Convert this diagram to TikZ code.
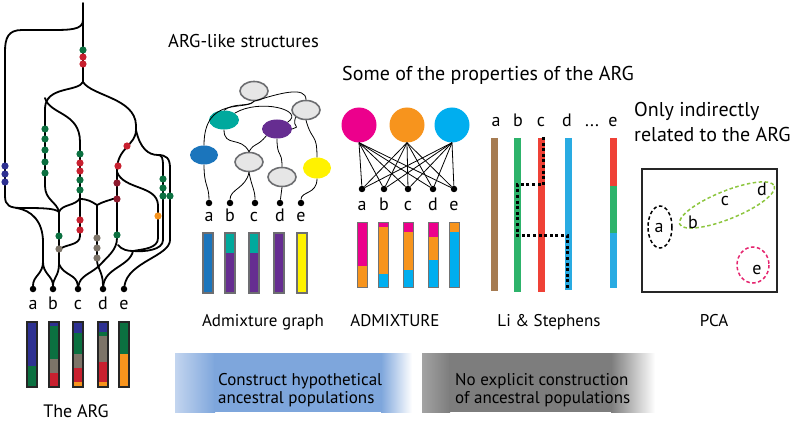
\documentclass[tikz,border=0pt]{standalone}
\usepackage{fontspec}
\setmainfont{PT Sans}
\usetikzlibrary{shapes.geometric,positioning}
\definecolor{mGreen}{HTML}{0B7040}
\definecolor{mRed}{HTML}{C8202F}
\definecolor{mDark}{HTML}{8E1B2F}
\definecolor{mBlue}{HTML}{2E3192}
\definecolor{mGrey}{HTML}{7D7468}
\definecolor{mOrange}{HTML}{F7941D}
\definecolor{gBlueC}{HTML}{1B75BC}
\definecolor{gTealC}{HTML}{00A99D}
\definecolor{gPurpC}{HTML}{662D91}
\definecolor{gYellC}{HTML}{FFF200}
\definecolor{gGreyC}{HTML}{E6E6E6}
\definecolor{gEdge}{HTML}{6D6E71}
\definecolor{kMag}{HTML}{EC008C}
\definecolor{kOra}{HTML}{F7941D}
\definecolor{kCya}{HTML}{00AEEF}
\definecolor{lsBrown}{HTML}{A67C52}
\definecolor{lsGreen}{HTML}{2DB36B}
\definecolor{lsRed}{HTML}{EF4136}
\definecolor{lsBlue}{HTML}{29ABE2}
\definecolor{pcGreen}{HTML}{8DC63F}
\definecolor{pcPink}{HTML}{E5256F}
\definecolor{bnBlue}{HTML}{7EA6DC}
\definecolor{bnBlueL}{HTML}{C3D5EF}
\definecolor{bnGrey}{HTML}{7D7D7D}
\definecolor{bnGreyL}{HTML}{A3A3A3}
\tikzset{
ARC/.style ={draw=black,line join=round,line cap=round,line width=1.8pt},
THIN/.style ={draw=black,line width=0.8pt},
LEAF/.style={circle,fill=black,inner sep=0pt,minimum size=6.5pt},
POP/.style={ellipse,draw=gEdge,line width=1.6pt,fill=#1,inner sep=0pt,minimum width=28pt,minimum height=19pt},
POP/.default = gGreyC,
ADM/.style={ellipse,fill=#1,inner sep=0pt,minimum width=30pt,minimum height=19pt},
SRC/.style={circle,fill=#1,inner sep=0pt,minimum size=35pt},
TXT/.style={font=\fontsize{18}{21}\selectfont,inner sep=0pt,anchor=base},
NAME/.style={font=\fontsize{17}{20}\selectfont,inner sep=0pt,anchor=base},
TITLE/.style={font=\fontsize{20}{24}\selectfont,inner sep=0pt,anchor=base west},
BAR/.style={draw=#1,line width=1.4pt},
BAR/.default = black!85,
LSBAR/.style={draw=#1,line width=7pt},
COPY/.style={draw=black,line width=3pt,dash pattern=on 3pt off 2.6pt},
CLUST/.style={draw=#1,line width=1.5pt,dash pattern=on 3.5pt off 2.5pt},
}
\begin{document}
\begin{tikzpicture}[x=1pt,y=-1pt] %ARG and ARG-like structures
	\useasboundingbox (0,0) rectangle (800,422);
	% the ARG
	\node[LEAF] (arga) at (33,289) {};
	\node[LEAF] (argb) at (53,289) {};
	\node[LEAF] (argc) at (78,289) {};
	\node[LEAF] (argd) at (103,289) {};
	\node[LEAF] (arge) at (124,289) {};
	\path[ARC] (83,3) -- (83,82);
	\path[ARC] (83,20) .. controls (83,30) and (70,30) .. (50,30) -- (22,30) .. controls (8,30) and (5,38) .. (5,52) -- (5,196) .. controls (5,206) and (10,208) .. (22,208) .. controls (40,208) and (55,208) .. (59,212);
	\path[ARC] (16,208) .. controls (32,210) and (43,222) .. (43,242) -- (43,262);
	\path[ARC] (43,262) .. controls (43,274) and (33,276) .. (arga);
	\path[ARC] (43,262) .. controls (43,274) and (53,276) .. (argb);
	\path[ARC] (83,82) .. controls (78,92) and (46,86) .. (45,108) -- (45,186) .. controls (45,200) and (57,202) .. (59,212);
	\path[ARC] (45,98) .. controls (50,115) and (80,112) .. (80,142) -- (80,236) .. controls (80,246) and (64,244) .. (59,250);
	\path[ARC] (80,198) .. controls (76,206) and (62,204) .. (59,212);
	\path[ARC] (59,212) -- (59,264);
	\path[ARC] (59,264) .. controls (59,276) and (53,278) .. (argb);
	\path[ARC] (59,264) .. controls (64,276) and (77,274) .. (argc);
	\path[ARC] (80,199) .. controls (88,199) and (92,202) .. (97,205) .. controls (102,202) and (110,200) .. (116,198);
	\path[ARC] (97,205) -- (97,260) .. controls (97,268) and (103,272) .. (argd);
	\path[ARC] (99,266) .. controls (90,274) and (80,276) .. (argc);
	\path[ARC] (83,82) .. controls (92,96) and (135,98) .. (136,125) -- (136,130);
	\path[ARC] (136,130) .. controls (136,145) and (117,148) .. (117,170) -- (117,238) .. controls (117,250) and (108,256) .. (99,266);
	\path[ARC] (118,245) .. controls (122,250) and (128,251) .. (133,251);
	\path[ARC] (136,130) .. controls (140,148) and (148,155) .. (158,155) .. controls (162,155) and (163,158) .. (163,166) -- (163,240) .. controls (163,250) and (145,252) .. (133,251);
	\path[ARC] (158,155) .. controls (166,155) and (170,158) .. (170,168) -- (170,240) .. controls (170,256) and (128,262) .. (arge);
	\path[ARC] (117,172) .. controls (124,190) and (157,185) .. (158,205) -- (158,238) .. controls (158,248) and (145,249) .. (133,251);
	\path[ARC] (133,251) .. controls (130,266) and (105,268) .. (argd);
	% mutations
	\foreach \p in {(83,50),(45,129),(45,139),(45,150),(45,162),(45,173),(80,154),(80,180),(80,190),(59,236),(117,235),(163,179),(163,188),(163,196),(170,196)}
		\fill[mGreen] \p circle (3.6);
	\foreach \p in {(83,57),(83,64),(80,163),(80,171),(80,220),(80,230),(127,146),(118,166)}
		\fill[mRed] \p circle (3.6);
	\foreach \p in {(117,183),(117,199)}
		\fill[mDark] \p circle (3.6);
	\foreach \p in {(5,166),(5,174),(5,182)}
		\fill[mBlue] \p circle (3.6);
	\foreach \p in {(59,249),(97,238),(97,248),(97,258)}
		\fill[mGrey] \p circle (3.6);
	\fill[mOrange] (158,216) circle (3.6);
	\node[TXT] (labarga) at (33,309) {a};
	\node[TXT] (labargb) at (53,309) {b};
	\node[TXT] (labargc) at (78,309) {c};
	\node[TXT] (labargd) at (103,309) {d};
	\node[TXT] (labarge) at (124,309) {e};
	\fill[mBlue] (27,322) rectangle (37,366); \fill[mGreen] (27,366) rectangle (37,387);
	\fill[mBlue] (49,322) rectangle (59,326); \fill[mGreen] (49,326) rectangle (59,359); \fill[mGrey] (49,359) rectangle (59,373); \fill[mRed] (49,373) rectangle (59,387);
	\fill[mBlue] (73,322) rectangle (83,333); \fill[mGreen] (73,333) rectangle (83,354); \fill[mGrey] (73,354) rectangle (83,368); \fill[mRed] (73,368) rectangle (83,382); \fill[mOrange] (73,382) rectangle (83,387);
	\fill[mBlue] (98,322) rectangle (108,332); \fill[mGreen] (98,332) rectangle (108,336); \fill[mGrey] (98,336) rectangle (108,362); \fill[mRed] (98,362) rectangle (108,382); \fill[mOrange] (98,382) rectangle (108,387);
	\fill[mGreen] (119,322) rectangle (129,354); \fill[mOrange] (119,354) rectangle (129,387);
	\foreach \x in {27,49,73,98,119}
		\path[BAR] (\x,322) rectangle (\x+10,387);
	\node[TXT] (argname) at (76,417) {The ARG};
	% titles
	\node[TITLE,font=\fontsize{18.5}{22}\selectfont] (titlelike) at (168,48) {ARG-like structures};
	\node[TITLE] (titleprop) at (342,81) {Some of the properties of the ARG};
	\node[TITLE] (titleind) at (634,117) {Only indirectly};
	\node[TITLE] (titleind2) at (634,142) {related to the ARG};
	% admixture graph
	\node[POP] (gTop) at (254,91) {};
	\node[POP] (gRight) at (306,110) {};
	\node[ADM=gTealC] (gTeal) at (224,120) {};
	\node[ADM=gPurpC] (gPurple) at (277,129) {};
	\node[ADM=gBlueC,minimum width=28pt] (gBlue) at (204,155) {};
	\node[POP] (gMid) at (249,162) {};
	\node[POP] (gLow) at (282,177) {};
	\node[ADM=gYellC,minimum width=28pt,minimum height=21pt] (gYellow) at (317,168) {};
	\node[LEAF] (ga) at (209,203) {};
	\node[LEAF] (gb) at (230,203) {};
	\node[LEAF] (gc) at (255,203) {};
	\node[LEAF] (gd) at (280,203) {};
	\node[LEAF] (ge) at (301,203) {};
	\path[THIN] (gTop.south) .. controls +(-8,10) and +(0,-50) .. (gBlue.north);
	\path[THIN] (gTop.south) .. controls +(25,-8) and +(0,-14) .. (gRight.north);
	\path[THIN] (gTop.south) .. controls +(-6,6) and +(10,-8) .. (gTeal.north);
	\path[THIN] (gTeal.north east) .. controls +(25,-15) and +(18,-12) .. (gPurple.north east);
	\path[THIN] (gRight.south west) .. controls +(-4,12) and +(10,-4) .. (gPurple.east);
	\path[THIN] (gRight.south) .. controls +(6,22) and +(0,-25) .. (gYellow.north);
	\path[THIN] (gTeal.south) .. controls +(0,18) and +(-8,-16) .. (gMid.north);
	\path[THIN] (gPurple.south west) .. controls +(-10,12) and +(6,-10) .. (gMid.north);
	\path[THIN] (gPurple.south) .. controls +(0,20) and +(0,-18) .. (gLow.north);
	\path[THIN] (gBlue.south) .. controls +(0,22) and +(0,-18) .. (ga);
	\path[THIN] (gMid.south) .. controls +(-3,16) and +(0,-14) .. (gb);
	\path[THIN] (gMid.south) .. controls +(3,16) and +(0,-14) .. (gc);
	\path[THIN] (gLow.south) -- (gd);
	\path[THIN] (gYellow.south) .. controls +(0,16) and +(0,-12) .. (ge);
	\node[TXT] (labga) at (209,222) {a};
	\node[TXT] (labgb) at (230,222) {b};
	\node[TXT] (labgc) at (254,222) {c};
	\node[TXT] (labgd) at (280,222) {d};
	\node[TXT] (labge) at (301,222) {e};
	\fill[gBlueC] (203,233) rectangle (213,293);
	\fill[gTealC] (225,233) rectangle (235,253); \fill[gPurpC] (225,253) rectangle (235,293);
	\fill[gTealC] (249,233) rectangle (259,253); \fill[gPurpC] (249,253) rectangle (259,293);
	\fill[gPurpC] (274,233) rectangle (284,293);
	\fill[gYellC] (297,233) rectangle (307,293);
	\foreach \x in {203,225,249,274,297}
		\path[BAR=gEdge] (\x,233) rectangle (\x+10,293);
	\node[NAME] (namegraph) at (263,326) {Admixture graph};
	% ADMIXTURE
	\node[SRC=kMag] (kA) at (359,125) {};
	\node[SRC=kOra] (kB) at (407,125) {};
	\node[SRC=kCya] (kC) at (452,125) {};
	\node[LEAF] (xa) at (362,189) {};
	\node[LEAF] (xb) at (384,189) {};
	\node[LEAF] (xc) at (408,189) {};
	\node[LEAF] (xd) at (433,189) {};
	\node[LEAF] (xe) at (454,189) {};
	\foreach \s in {kA,kB,kC}
		\foreach \t in {xa,xb,xc,xd,xe}
			\path[THIN] (\s.south) -- (\t);
	\node[TXT] (labxa) at (362,211) {a};
	\node[TXT] (labxb) at (384,211) {b};
	\node[TXT] (labxc) at (408,211) {c};
	\node[TXT] (labxd) at (433,211) {d};
	\node[TXT] (labxe) at (454,211) {e};
	\fill[kMag] (357,222) rectangle (367,266); \fill[kOra] (357,266) rectangle (367,287);
	\fill[kMag] (378,222) rectangle (388,227); \fill[kOra] (378,227) rectangle (388,274); \fill[kCya] (378,274) rectangle (388,287);
	\fill[kMag] (403,222) rectangle (413,232); \fill[kOra] (403,232) rectangle (413,270); \fill[kCya] (403,270) rectangle (413,287);
	\fill[kMag] (428,222) rectangle (438,237); \fill[kOra] (428,237) rectangle (438,260); \fill[kCya] (428,260) rectangle (438,287);
	\fill[kOra] (449,222) rectangle (459,232); \fill[kCya] (449,232) rectangle (459,287);
	\foreach \x in {357,378,403,428,449}
		\path[BAR=black!55,line width=0.8pt] (\x,222) rectangle (\x+10,287);
	\node[NAME] (nameadm) at (395,326) {ADMIXTURE};
	% Li & Stephens
	\node[TXT] (labla) at (496,127) {a};
	\node[TXT] (lablb) at (518,127) {b};
	\node[TXT] (lablc) at (541,127) {c};
	\node[TXT] (labld) at (567,127) {d};
	\node[TXT] (labldots) at (592,127) {...};
	\node[TXT] (lable) at (613,127) {e};
	\path[LSBAR=lsBrown] (494,138) -- (494,291);
	\path[LSBAR=lsGreen] (517,138) -- (517,292);
	\path[LSBAR=lsRed] (541,138) -- (541,292);
	\path[LSBAR=lsBlue] (568,138) -- (568,290);
	\path[LSBAR=lsRed] (613,138) -- (613,186);
	\path[LSBAR=lsGreen] (613,186) -- (613,233);
	\path[LSBAR=lsBlue] (613,233) -- (613,288);
	\path[COPY] (543,137) -- (543,185) -- (517,185) -- (517,235) -- (567,235) -- (567,290);
	\node[NAME] (namels) at (549,326) {Li \& Stephens};
	% PCA
	\path[draw=black!85,line width=1.6pt] (642,169) rectangle (777,292);
	\path[CLUST=black] (660,227) ellipse [x radius=12, y radius=21];
	\path[CLUST=pcGreen,rotate around={22:(727,205)}] (727,205) ellipse [x radius=51, y radius=14];
	\path[CLUST=pcPink] (753,265) ellipse [x radius=16, y radius=18];
	\node[TXT] (pa) at (659,233) {a};
	\node[TXT] (pb) at (693,228) {b};
	\node[TXT] (pc) at (725,206) {c};
	\node[TXT] (pd) at (762,196) {d};
	\node[TXT] (pe) at (757,274) {e};
	\node[NAME] (namepca) at (714,326) {PCA};
	% banners
	\shade[left color=bnBlueL, right color=bnBlue] (175,353) rectangle (215,412);
	\fill[bnBlue] (214,353) rectangle (382,412);
	\shade[left color=bnBlue, right color=white] (381,353) rectangle (412,412);
	\shade[left color=bnGreyL, right color=bnGrey] (422,353) rectangle (450,412);
	\fill[bnGrey] (449,353) rectangle (612,412);
	\shade[left color=bnGrey, right color=white] (611,353) rectangle (655,412);
	\node[NAME,anchor=base west] (bnl1) at (218,385) {Construct hypothetical};
	\node[NAME,anchor=base west] (bnl2) at (218,403) {ancestral populations};
	\node[NAME,anchor=base west] (bnr1) at (455,385) {No explicit construction};
	\node[NAME,anchor=base west] (bnr2) at (455,403) {of ancestral populations};
\end{tikzpicture}
\end{document}
